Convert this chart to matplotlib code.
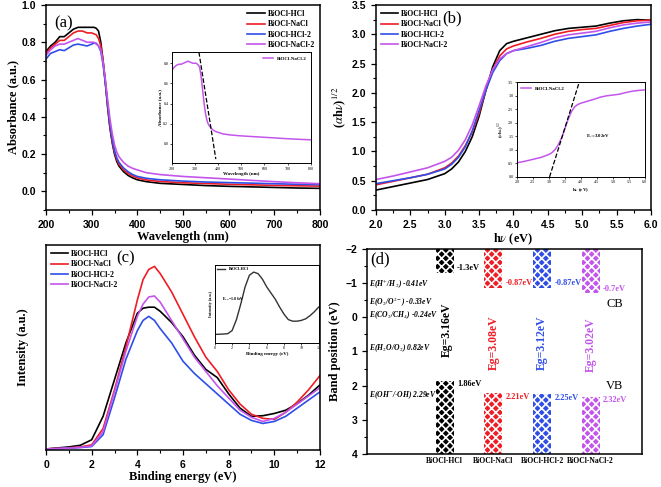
import matplotlib
matplotlib.use('Agg')
import matplotlib.pyplot as plt
from matplotlib.ticker import MultipleLocator

plt.rcParams['font.family'] = ['Liberation Serif', 'DejaVu Serif']
plt.rcParams['mathtext.fontset'] = 'stix'
plt.rcParams['hatch.linewidth'] = 1.2

names = ['BiOCl-HCl', 'BiOCl-NaCl', 'BiOCl-HCl-2', 'BiOCl-NaCl-2']
colors = ['black', '#f01c24', '#2f4ee8', '#c455ec']

# (a) UV-vis absorbance
wl = [200,210,220,230,240,250,260,270,280,290,300,305,310,315,320,325,330,335,340,345,350,355,360,370,380,390,400,420,450,500,550,600,650,700,750,800]
abs_hcl = [0.75,0.78,0.80,0.83,0.83,0.85,0.87,0.88,0.88,0.88,0.88,0.88,0.875,0.86,0.80,0.70,0.58,0.45,0.34,0.26,0.20,0.16,0.135,0.105,0.085,0.072,0.062,0.052,0.043,0.037,0.031,0.027,0.024,0.021,0.018,0.016]
abs_nacl = [0.74,0.77,0.79,0.81,0.81,0.83,0.85,0.86,0.86,0.85,0.85,0.845,0.84,0.82,0.78,0.70,0.59,0.46,0.35,0.27,0.21,0.17,0.145,0.115,0.095,0.082,0.072,0.061,0.053,0.046,0.042,0.038,0.035,0.032,0.030,0.028]
abs_hcl2 = [0.71,0.74,0.75,0.76,0.755,0.77,0.785,0.79,0.785,0.78,0.79,0.795,0.795,0.78,0.75,0.68,0.58,0.47,0.36,0.28,0.22,0.18,0.155,0.125,0.105,0.09,0.08,0.07,0.062,0.055,0.050,0.047,0.044,0.041,0.038,0.036]
abs_nacl2 = [0.73,0.76,0.78,0.79,0.79,0.80,0.81,0.82,0.81,0.80,0.80,0.80,0.79,0.78,0.76,0.69,0.60,0.49,0.39,0.31,0.25,0.21,0.185,0.155,0.135,0.123,0.115,0.100,0.090,0.080,0.073,0.066,0.059,0.052,0.046,0.041]
tangent_a_x = [317, 390]
tangent_a_y = [0.91, -0.15]

# (b) Tauc plot
hv = [2.0,2.25,2.5,2.75,3.0,3.1,3.2,3.3,3.4,3.5,3.6,3.7,3.8,3.9,4.0,4.2,4.4,4.6,4.8,5.0,5.2,5.4,5.6,5.8,6.0]
tauc_hcl = [0.34,0.40,0.46,0.52,0.62,0.70,0.82,1.00,1.25,1.60,2.05,2.45,2.72,2.84,2.88,2.94,3.00,3.06,3.10,3.12,3.14,3.19,3.23,3.25,3.24]
tauc_nacl = [0.43,0.49,0.55,0.61,0.72,0.80,0.92,1.10,1.33,1.65,2.05,2.40,2.63,2.75,2.80,2.87,2.93,3.00,3.05,3.08,3.10,3.15,3.20,3.23,3.24]
tauc_hcl2 = [0.45,0.50,0.55,0.61,0.70,0.78,0.90,1.08,1.35,1.70,2.05,2.35,2.55,2.67,2.72,2.76,2.81,2.88,2.93,2.96,2.99,3.05,3.10,3.14,3.17]
tauc_nacl2 = [0.52,0.58,0.65,0.72,0.83,0.90,1.02,1.20,1.45,1.78,2.12,2.40,2.58,2.67,2.72,2.79,2.86,2.94,2.99,3.02,3.05,3.11,3.16,3.19,3.21]
tangent_b_x = [3.02, 3.95]
tangent_b_y = [0.0, 3.5]

# (c) VB-XPS
be = [0,0.5,1,1.5,2,2.5,3,3.5,4,4.25,4.5,4.75,5,5.5,6,6.5,7,7.5,8,8.5,9,9.5,10,10.5,11,11.5,12]
xps_hcl = [0.0,0.005,0.01,0.018,0.045,0.16,0.34,0.52,0.665,0.69,0.695,0.695,0.675,0.62,0.55,0.46,0.39,0.35,0.27,0.2,0.16,0.163,0.174,0.19,0.222,0.264,0.314]
xps_nacl = [0.0,0.003,0.006,0.01,0.02,0.1,0.29,0.5,0.73,0.83,0.88,0.895,0.86,0.77,0.66,0.55,0.45,0.38,0.29,0.22,0.17,0.15,0.145,0.18,0.23,0.29,0.36]
xps_hcl2 = [0.0,0.002,0.004,0.007,0.012,0.07,0.25,0.44,0.58,0.63,0.65,0.63,0.59,0.52,0.43,0.37,0.32,0.27,0.22,0.17,0.14,0.125,0.135,0.16,0.2,0.24,0.28]
xps_nacl2 = [0.0,0.002,0.004,0.008,0.015,0.085,0.28,0.48,0.65,0.71,0.745,0.75,0.72,0.63,0.54,0.45,0.38,0.31,0.25,0.19,0.155,0.135,0.15,0.18,0.22,0.26,0.30]
be_in = [0,1,1.5,2,2.5,3,3.5,4,4.5,5,5.5,6,6.5,7,7.5,8,8.5,9,9.5,10,10.5,11,11.5,12]
xps_in = [0.11,0.115,0.12,0.16,0.3,0.5,0.72,0.87,0.91,0.89,0.82,0.72,0.64,0.56,0.46,0.37,0.3,0.28,0.28,0.29,0.31,0.35,0.4,0.46]

# (d) band positions
cb = [-1.3, -0.87, -0.87, -0.7]
vb = [1.86, 2.21, 2.25, 2.32]
eg = [3.16, 3.08, 3.12, 3.02]
eg_ypos = [0.35, 0.75, 0.75, 0.8]
redox_labels = [r'E(H$^{+}$/H$_{2}$) -0.41eV', r'E(O$_{2}$/O$^{2-}$) -0.33eV',
                r'E(CO$_{2}$/CH$_{4}$) -0.24eV', r'E(H$_{2}$O/O$_{2}$) 0.82eV',
                r'E(OH$^{-}$/$\cdot$OH) 2.29eV']
redox_ypos = [-0.97, -0.42, -0.05, 0.9, 2.27]


def style(ax):
    ax.tick_params(which='both', direction='out', top=False, right=False)
    ax.tick_params(which='major', length=3.5, width=0.9, labelsize=7.5)
    ax.tick_params(which='minor', length=2, width=0.8)
    for s in ax.spines.values():
        s.set_linewidth(1.1)
    for lab in ax.get_xticklabels() + ax.get_yticklabels():
        lab.set_fontfamily('Liberation Sans')
        lab.set_fontweight('bold')


fig = plt.figure(figsize=(6.61, 4.87), dpi=100)
lab_font = dict(fontsize=9, fontweight='bold')
leg_font = dict(size=5.6, weight='bold')
leg_kw = dict(frameon=False, prop=leg_font, handlelength=2.2, handletextpad=0.4,
              labelspacing=0.3, borderaxespad=0.25)

# ---------- (a)
ax = fig.add_axes([0.0696, 0.5688, 0.4145, 0.421])
for y, n, c in zip([abs_hcl, abs_nacl, abs_hcl2, abs_nacl2], names, colors):
    ax.plot(wl, y, color=c, lw=1.2, label=n)
ax.set_xlim(200, 800)
ax.set_ylim(-0.1, 1.0)
ax.xaxis.set_major_locator(MultipleLocator(100))
ax.xaxis.set_minor_locator(MultipleLocator(50))
ax.yaxis.set_major_locator(MultipleLocator(0.2))
ax.yaxis.set_minor_locator(MultipleLocator(0.1))
ax.set_xlabel('Wavelength (nm)', labelpad=1, **lab_font)
ax.set_ylabel('Absorbance (a.u.)', labelpad=2, **lab_font)
ax.text(0.03, 0.95, '(a)', transform=ax.transAxes, fontsize=12, va='top')
ax.legend(loc='upper right', **leg_kw)
style(ax)

ins = fig.add_axes([0.260, 0.665, 0.210, 0.228])
ins.plot(wl, abs_nacl2, color=colors[3], lw=1.1, label=names[3])
ins.plot(tangent_a_x, tangent_a_y, 'k--', lw=0.9)
ins.set_xlim(200, 800)
ins.set_ylim(-0.19, 0.91)
ins.yaxis.set_major_locator(MultipleLocator(0.2))
ins.set_xlabel('Wavelength (nm)', fontsize=3.5, fontweight='bold', labelpad=1)
ins.set_ylabel('Absorbance (a.u.)', fontsize=3.5, fontweight='bold', labelpad=1)
ins.legend(loc='upper right', frameon=False, prop=dict(size=3.5, weight='bold'), handlelength=2)
ins.tick_params(labelsize=3, length=1.5, width=0.5, pad=1)
for s in ins.spines.values():
    s.set_linewidth(0.7)

# ---------- (b)
ax = fig.add_axes([0.5688, 0.5688, 0.416, 0.421])
for y, n, c in zip([tauc_hcl, tauc_nacl, tauc_hcl2, tauc_nacl2], names, colors):
    ax.plot(hv, y, color=c, lw=1.2, label=n)
ax.set_xlim(2.0, 6.0)
ax.set_ylim(0.0, 3.5)
ax.xaxis.set_major_locator(MultipleLocator(0.5))
ax.xaxis.set_minor_locator(MultipleLocator(0.25))
ax.yaxis.set_major_locator(MultipleLocator(0.5))
ax.yaxis.set_minor_locator(MultipleLocator(0.25))
ax.xaxis.set_major_formatter(plt.FormatStrFormatter('%.1f'))
ax.yaxis.set_major_formatter(plt.FormatStrFormatter('%.1f'))
ax.set_xlabel(r'h$\nu$ (eV)', labelpad=1, **lab_font)
ax.set_ylabel(r'($\alpha$h$\nu$)$^{1/2}$', labelpad=3, **lab_font)
ax.text(0.24, 0.975, '(b)', transform=ax.transAxes, fontsize=12, va='top')
ax.legend(loc='upper left', **leg_kw)
style(ax)

ins = fig.add_axes([0.782, 0.6366, 0.1936, 0.195])
ins.plot(hv, tauc_nacl2, color=colors[3], lw=1.1, label=names[3])
ins.plot(tangent_b_x, tangent_b_y, 'k--', lw=0.9)
ins.set_xlim(2.0, 6.0)
ins.set_ylim(0.0, 3.5)
ins.xaxis.set_major_locator(MultipleLocator(0.5))
ins.yaxis.set_major_locator(MultipleLocator(0.5))
ins.text(4.15, 1.5, r'E$_{g}$=3.02eV', fontsize=3.5, fontweight='bold')
ins.set_xlabel(r'h$\nu$ (eV)', fontsize=3.5, fontweight='bold', labelpad=1)
ins.set_ylabel(r'($\alpha$h$\nu$)$^{1/2}$', fontsize=3.5, fontweight='bold', labelpad=1)
ins.legend(loc='upper left', frameon=False, prop=dict(size=3.5, weight='bold'), handlelength=2)
ins.tick_params(labelsize=3, length=1.5, width=0.5, pad=1)
for s in ins.spines.values():
    s.set_linewidth(0.7)

# ---------- (c)
ax = fig.add_axes([0.0696, 0.076, 0.4145, 0.421])
for y, n, c in zip([xps_hcl, xps_nacl, xps_hcl2, xps_nacl2], names, colors):
    ax.plot(be, y, color=c, lw=1.2, label=n)
ax.set_xlim(0, 12)
ax.set_ylim(-0.005, 1.0)
ax.xaxis.set_major_locator(MultipleLocator(2))
ax.xaxis.set_minor_locator(MultipleLocator(1))
ax.set_yticks([])
ax.set_xlabel('Binding energy (eV)', labelpad=1, **lab_font)
ax.set_ylabel('Intensity (a.u.)', labelpad=12, **lab_font)
ax.text(0.255, 0.975, '(c)', transform=ax.transAxes, fontsize=12, va='top')
ax.legend(loc='upper left', **leg_kw)
style(ax)

ins = fig.add_axes([0.325, 0.2957, 0.157, 0.160])
ins.plot(be_in, xps_in, color='#333333', lw=1.0, label=names[0])
ins.set_xlim(0, 12)
ins.set_ylim(0, 1.0)
ins.set_yticks([])
ins.xaxis.set_major_locator(MultipleLocator(2))
ins.text(0.8, 0.55, r'E$_{VB}$=1.86eV', fontsize=3, fontweight='bold')
ins.set_xlabel('Binding energy (eV)', fontsize=3.5, fontweight='bold', labelpad=1)
ins.set_ylabel('Intensity (a.u.)', fontsize=3, fontweight='bold', labelpad=1)
ins.legend(loc='upper left', frameon=False, prop=dict(size=3, weight='bold'), handlelength=2,
           borderaxespad=0.1)
ins.tick_params(labelsize=3, length=1.5, width=0.5, pad=1)
for s in ins.spines.values():
    s.set_linewidth(0.7)

# ---------- (d)
ax = fig.add_axes([0.555, 0.0678, 0.416, 0.421])
pos = list(range(len(names)))
w = 0.37
for i in pos:
    ax.bar(pos[i], cb[i] + 2, width=w, bottom=-2, color=colors[i], hatch='xxxx',
           edgecolor='white', linewidth=0)
    ax.bar(pos[i], 4 - vb[i], width=w, bottom=vb[i], color=colors[i], hatch='xxxx',
           edgecolor='white', linewidth=0)
    ax.text(pos[i] + 0.25, cb[i] - 0.14, f'{cb[i]:g}eV',
            color=colors[i], fontsize=6, fontweight='bold', va='center')
    ax.text(pos[i] + 0.25, vb[i] + (0.08 if i == 0 else 0.11), f'{vb[i]:g}eV',
            color=colors[i], fontsize=6, fontweight='bold', va='center')
    ax.text(pos[i] + (0.05 if i == 0 else 0.0), eg_ypos[i], f'Eg={eg[i]:.2f}eV',
            color=colors[i], fontsize=8.5, fontweight='bold', rotation=90,
            ha='center', va='center')
for t, yv in zip(redox_labels, redox_ypos):
    ax.text(-1.56, yv, t, fontsize=5.5, fontweight='bold', style='italic', va='center')
ax.text(3.32, -0.4, 'CB', fontsize=9, va='center')
ax.text(3.32, 2.0, 'VB', fontsize=9, va='center')
ax.text(-1.52, -1.7, '(d)', fontsize=12, va='center')
ax.set_xlim(-1.6, 4.05)
ax.set_ylim(4, -2)
ax.yaxis.set_major_locator(MultipleLocator(1))
ax.yaxis.set_minor_locator(MultipleLocator(0.5))
ax.set_xticks(pos)
ax.set_xticklabels(names)
ax.set_ylabel('Band position (eV)', labelpad=3, **lab_font)
style(ax)
ax.tick_params(axis='x', length=0, pad=2)
for lab in ax.get_xticklabels():
    lab.set_fontfamily('Liberation Serif')
    lab.set_fontsize(5.5)

fig.savefig('out.png', dpi=100)
